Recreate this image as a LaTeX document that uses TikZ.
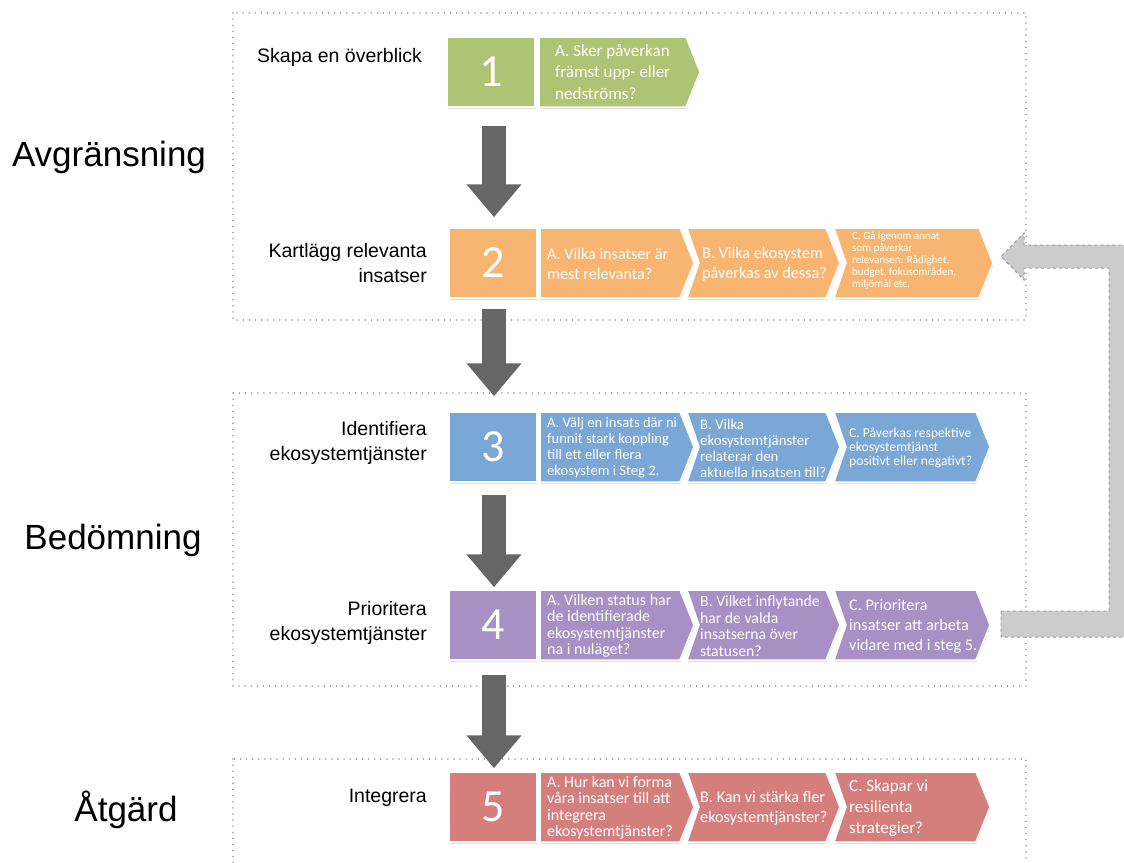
\documentclass[tikz,border=0pt]{standalone}
\usepackage{fontspec}
\setmainfont{Liberation Sans}
\newfontfamily\calfont{Carlito}
\usetikzlibrary{shadows,arrows.meta,calc}
\definecolor{cgreen}{HTML}{ADC474}
\definecolor{corange}{HTML}{F8B471}
\definecolor{cblue}{HTML}{7AA7D6}
\definecolor{cpurple}{HTML}{A791C4}
\definecolor{cred}{HTML}{D57F7C}
\definecolor{arrowgray}{HTML}{666666}
\definecolor{fbfill}{HTML}{CCCCCC}
\definecolor{fbline}{HTML}{A0A0A0}
\definecolor{dotgray}{HTML}{999999}
\newcommand\mychev[5]{%
  \filldraw[chev, fill=#4] (#1,#3-35) -- (#2-14,#3-35) -- (#2,#3) -- (#2-14,#3+35) -- (#1,#3+35) -- (#1+#5,#3) -- cycle;}
\newcommand\fs[2]{\fontsize{#1}{#2}\selectfont}
\begin{document}
\begin{tikzpicture}[x=1pt,y=-1pt,
  frame/.style={draw=dotgray, line width=1.4pt, dash pattern=on 0.1pt off 6pt, line cap=round},
  sq/.style={draw=white, line width=1.5pt, minimum width=88pt, minimum height=70pt, inner sep=0pt, text=white, font=\calfont\fs{46}{46}, drop shadow={opacity=0.25,shadow xshift=0.5pt,shadow yshift=-2pt}},
  chev/.style={draw=white, line width=1.5pt, drop shadow={opacity=0.25,shadow xshift=0.5pt,shadow yshift=-2pt}},
  ctext/.style={anchor=west, align=left, text=white, inner sep=0pt},
  steplabel/.style={align=right, inner sep=0pt, font=\fs{19.5}{25}},
  biglabel/.style={inner sep=0pt, font=\fs{35}{40}},
  darrow/.style={draw=arrowgray, line width=24pt, -{Triangle[width=53pt,length=33pt]}},
  fb/.style={fill=fbfill, draw=fbline, line width=1pt, dashed}
]
\useasboundingbox (0,0) rectangle (1124,862);

% dotted frames
\draw[frame] (233,13) rectangle (1026,320);
\draw[frame] (233,393) rectangle (1026,686);
\draw[frame] (233,759) rectangle (1026,900);

% feedback arrow
\coordinate (fbS) at (1001,611);
\filldraw[fb] (fbS) -- (1109,611) -- (1109,268) -- (1024,268) -- (1024,280) -- (1001,256.5) -- (1024,233) -- (1024,245) -- (1140,245) -- (1140,637) -- (1001,637) -- cycle;

% big labels
\node[biglabel] (lab1) at (109,157) {Avgränsning};
\node[biglabel] (lab2) at (113,540) {Bedömning};
\node[biglabel] (lab3) at (126,810) {Åtgärd};

% step labels
\node[steplabel, anchor=west] (s1) at (257,57) {Skapa en överblick};
\node[steplabel, anchor=east] (s2) at (427,263) {Kartlägg relevanta\\insatser};
\node[steplabel, anchor=east] (s3) at (427,443) {Identifiera\\ekosystemtjänster};
\node[steplabel, anchor=east] (s4) at (427,623) {Prioritera\\ekosystemtjänster};
\node[steplabel, anchor=east] (s5) at (427,798) {Integrera};

% row 1
\mychev{539}{700}{72}{cgreen}{0}
\node[sq, fill=cgreen] (n1) at (491,72) {1};
\node[ctext, font=\calfont\fs{17}{21.5}] (r1a) at (555,72) {A. Sker påverkan\\främst upp- eller\\nedströms?};

% row 2
\mychev{540}{694}{263}{corange}{0}
\mychev{687}{840}{263}{corange}{12}
\mychev{834}{993}{263}{corange}{12}
\node[sq, fill=corange] (n2) at (493,263) {2};
\node[ctext, font=\calfont\fs{16.2}{20}] (r2a) at (547,264) {A. Vilka insatser är\\mest relevanta?};
\node[ctext, font=\calfont\fs{16.2}{20}] (r2b) at (702,264) {B. Vilka ekosystem\\påverkas av dessa?};
\node[ctext, font=\calfont\fs{11}{12}] (r2c) at (852,261) {C. Gå igenom annat\\som påverkar\\relevansen: Rådighet,\\budget, fokusområden,\\miljömål etc.};

% row 3
\mychev{540}{694}{447}{cblue}{0}
\mychev{687}{840}{447}{cblue}{12}
\mychev{834}{990}{447}{cblue}{12}
\node[sq, fill=cblue] (n3) at (493,447) {3};
\node[ctext, font=\calfont\fs{14.6}{16}] (r3a) at (547,448) {A. Välj en insats där ni\\funnit stark koppling\\till ett eller flera\\ekosystem i Steg 2.};
\node[ctext, font=\calfont\fs{14.8}{16}] (r3b) at (700,448) {B. Vilka\\ekosystemtjänster\\relaterar den\\aktuella insatsen till?};
\node[ctext, font=\calfont\fs{13.6}{14}] (r3c) at (849,448) {C. Påverkas respektive\\ekosystemtjänst\\positivt eller negativt?};

% row 4
\mychev{540}{694}{625}{cpurple}{0}
\mychev{687}{840}{625}{cpurple}{12}
\mychev{834}{990}{625}{cpurple}{12}
\node[sq, fill=cpurple] (n4) at (493,625) {4};
\node[ctext, font=\calfont\fs{16}{16.5}] (r4a) at (547,626) {A. Vilken status har\\de identifierade\\ekosystemtjänster\\na i nuläget?};
\node[ctext, font=\calfont\fs{15.7}{16.5}] (r4b) at (700,626) {B. Vilket inflytande\\har de valda\\insatserna över\\statusen?};
\node[ctext, font=\calfont\fs{16.2}{20}] (r4c) at (849,626) {C. Prioritera\\insatser att arbeta\\vidare med i steg 5.};

% row 5
\mychev{540}{694}{807}{cred}{0}
\mychev{687}{840}{807}{cred}{12}
\mychev{834}{990}{807}{cred}{12}
\node[sq, fill=cred] (n5) at (493,807) {5};
\node[ctext, font=\calfont\fs{16}{16.5}] (r5a) at (547,808) {A. Hur kan vi forma\\våra insatser till att\\integrera\\ekosystemtjänster?};
\node[ctext, font=\calfont\fs{16.2}{20}] (r5b) at (700,808) {B. Kan vi stärka fler\\ekosystemtjänster?};
\node[ctext, font=\calfont\fs{17}{21}] (r5c) at (849,808) {C. Skapar vi\\resilienta\\strategier?};

% down arrows
\draw[darrow] ([xshift=3pt,yshift=-18pt]n1.south) -- ([xshift=1pt,yshift=10pt]n2.north);
\draw[darrow] ([xshift=1pt,yshift=-10pt]n2.south) -- ([xshift=1pt,yshift=15pt]n3.north);
\draw[darrow] ([xshift=1pt,yshift=-12pt]n3.south) -- ([xshift=1pt,yshift=2pt]n4.north);
\draw[darrow] ([xshift=1pt,yshift=-14pt]n4.south) -- ([xshift=1pt,yshift=3pt]n5.north);
\end{tikzpicture}
\end{document}
